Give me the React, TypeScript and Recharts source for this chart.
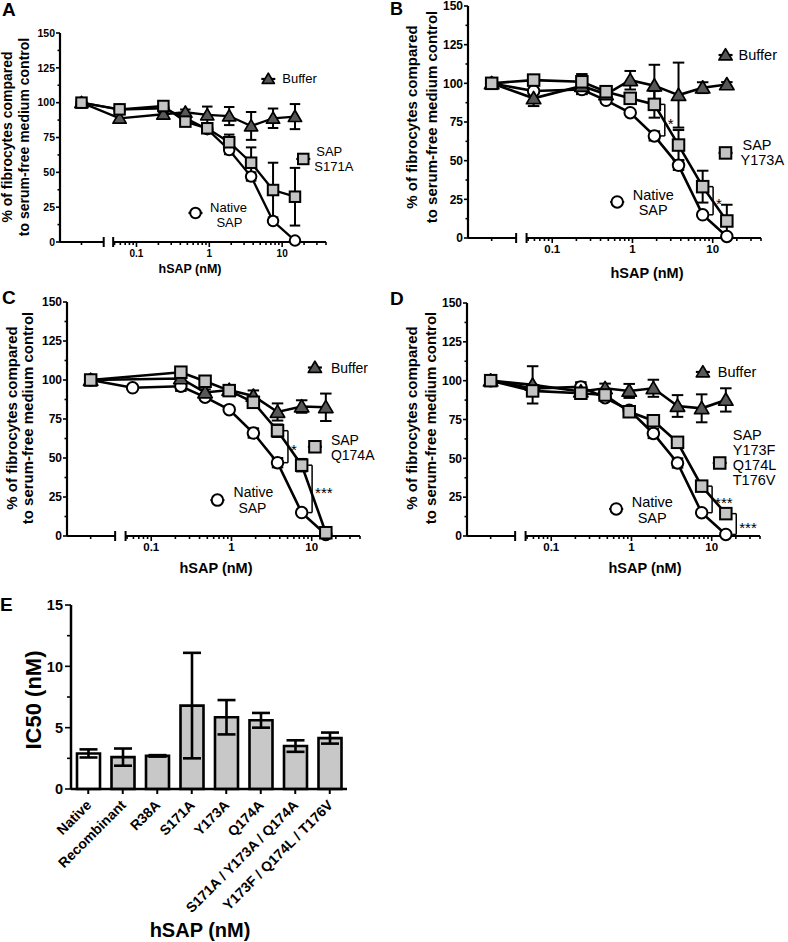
import React from 'react';
import {
  ComposedChart, Line, XAxis, YAxis, ErrorBar, ReferenceLine, ReferenceDot,
  BarChart, Bar, Cell,
} from 'recharts';

const FONT = '"Liberation Sans", Arial, Helvetica, sans-serif';

// ---------- data: dose-response (panels A-D) ----------
// hSAP concentrations in nM; 0 = serum-free medium control
const CONC = [0, 0.0586, 0.234, 0.469, 0.9375, 1.875, 3.75, 7.5, 15];
const NATIVE_SAP = [100, 95, 96, 89, 81, 66, 47, 15, 1];
const NATIVE_SAP_ERR = [0, 1, 3, 1.5, 1, 3, 3, 1, 0];

const BUFFER_A = [100, 88.8, 91.7, 93.1, 91.2, 90.4, 83.3, 88.8, 90];
const BUFFER_A_ERR = [0, 3, 3, 2, 6, 6.5, 10, 7, 9];
const SAP_S171A = [100, 95.2, 97.6, 86.4, 81.6, 71.6, 56.9, 37.3, 32.5];
const SAP_S171A_ERR = [0, 2, 3, 2, 2, 5.5, 11, 19.6, 20.7];

const BUFFER_B = [100, 90.3, 98.3, 92.9, 102, 98.5, 92.4, 97.2, 99.3];
const BUFFER_B_ERR = [0, 5, 5, 2, 6, 13.5, 21, 3.5, 1.5];
const SAP_Y173A = [100, 102.1, 101, 94.6, 90.3, 86.4, 60.1, 33.2, 11];
const SAP_Y173A_ERR = [0, 2, 5, 2, 3, 8.6, 9.7, 10.3, 10.5];

const BUFFER_C = [100, null, 101, 92, 93.6, 89.8, 79.5, 83, 82.5];
const BUFFER_C_ERR = [0, null, 4, 2, 2, 3.5, 5.5, 4, 8.8];
const SAP_Q174A = [100, null, 105, 99.2, 93.2, 85.7, 67.5, 45.4, 2.1];
const SAP_Q174A_ERR = [0, null, 2, 2, 2, 2, 4, 4, 1];

const BUFFER_D = [100, 97.3, 93, 95.1, 93.4, 95.1, 83.7, 82.2, 87.6];
const BUFFER_D_ERR = [0, 12, 4, 3, 4.5, 5.5, 7, 9, 7.5];
const SAP_TRIPLE = [100, 93.4, 91.9, 90.8, 80, 74.2, 60.3, 32.1, 14.4];
const SAP_TRIPLE_ERR = [0, 2, 2, 2, 1.5, 2, 2, 3, 3];

// significance brackets (mutant vs native at a given concentration)
const BRACKETS_B = [{ conc: 1.875, label: '*' }, { conc: 7.5, label: '*' }];
const BRACKETS_C = [{ conc: 3.75, label: '*' }, { conc: 7.5, label: '***' }];
const BRACKETS_D = [{ conc: 7.5, label: '***' }, { conc: 15, label: '***' }];

// axis tick labels
const X_MAJOR = [0.1, 1, 10];
const X_MAJOR_LABELS = ['0.1', '1', '10'];
const Y_MAJOR = [0, 25, 50, 75, 100, 125, 150];

// ---------- data: IC50 (panel E) ----------
const IC50_LABELS = ['Native', 'Recombinant', 'R38A', 'S171A', 'Y173A', 'Q174A',
  'S171A / Y173A / Q174A', 'Y173F / Q174L / T176V'];
const IC50_VALUES = [2.9, 2.6, 2.7, 6.8, 5.85, 5.6, 3.5, 4.15];
const IC50_ERR = [0.33, 0.7, 0.06, 4.3, 1.4, 0.6, 0.47, 0.45];
const IC50_TICKS = [0, 5, 10, 15];

// ---------- broken log axis layout ----------
const CONTROL_POS = -1.755;
const LEFT_SEG = [-2.05, -1.45];
const RIGHT_SEG = [-1.32, Math.log10(40)];
const toPos = (c: number) => (c === 0 ? CONTROL_POS : Math.log10(c));

const X_MINOR: number[] = [];
[-2, -1, 0, 1].forEach((e) => {
  for (let k = 2; k <= 9; k++) {
    const p = Math.log10(k * Math.pow(10, e));
    if (p >= RIGHT_SEG[0] + 0.01 && p <= RIGHT_SEG[1] + 1e-9) X_MINOR.push(p);
  }
});
const X_MAJOR_POS = X_MAJOR.map((v) => Math.log10(v));
const X_TICKS = [CONTROL_POS, LEFT_SEG[1], RIGHT_SEG[0], ...X_MINOR, ...X_MAJOR_POS];
const Y_TICKS_ALL: number[] = [];
for (let v = 0; v <= 150; v += 12.5) Y_TICKS_ALL.push(v);

const near = (a: number, b: number) => Math.abs(a - b) < 1e-6;

function XTick(props: any) {
  const { x, y, payload, fs } = props;
  const v = payload.value;
  const isCap = near(v, LEFT_SEG[1]) || near(v, RIGHT_SEG[0]);
  const mi = X_MAJOR_POS.findIndex((m) => near(m, v));
  const len = mi >= 0 ? 5 : 3;
  return (
    <g>
      {isCap ? (
        <line x1={x} x2={x} y1={y - 5} y2={y + 5} stroke="#000" strokeWidth={2} />
      ) : (
        <line x1={x} x2={x} y1={y} y2={y + len} stroke="#000" strokeWidth={1.6} />
      )}
      {mi >= 0 && (
        <text x={x} y={y + 11 + fs * 0.36} textAnchor="middle" fontSize={fs}
          fontWeight="bold" fontFamily={FONT} fill="#000">{X_MAJOR_LABELS[mi]}</text>
      )}
    </g>
  );
}

function YTick(props: any) {
  const { x, y, payload, fs, majors, majorLen, minorLen, gap } = props;
  const v = payload.value;
  const isMajor = majors.some((m: number) => near(m, v));
  return (
    <g>
      <line x1={x} x2={x - (isMajor ? majorLen : minorLen)} y1={y} y2={y} stroke="#000" strokeWidth={1.6} />
      {isMajor && (
        <text x={x - gap} y={y + fs * 0.36} textAnchor="end" fontSize={fs}
          fontWeight="bold" fontFamily={FONT} fill="#000">{String(v)}</text>
      )}
    </g>
  );
}

function Marker({ kind, cx, cy, s }: any) {
  if (kind === 'circle') {
    return <circle cx={cx} cy={cy} r={s / 2} fill="#fff" stroke="#000" strokeWidth={2} />;
  }
  if (kind === 'square') {
    return <rect x={cx - s / 2} y={cy - s / 2} width={s} height={s} fill="#c4c4c4" stroke="#000" strokeWidth={2} />;
  }
  const h = s * 0.5;
  return (
    <polygon
      points={`${cx},${cy - h * 1.1} ${cx + h * 1.15},${cy + h * 0.85} ${cx - h * 1.15},${cy + h * 0.85}`}
      fill="#585858" stroke="#000" strokeWidth={1.7} strokeLinejoin="round"
    />
  );
}

const dotRenderer = (kind: string, s: number) => (p: any) => {
  const key = `d-${kind}-${p.index}`;
  if (p.cx == null || p.cy == null || p.value == null || Number.isNaN(p.cy)) return <g key={key} />;
  return <Marker key={key} kind={kind} cx={p.cx} cy={p.cy} s={s} />;
};

type NoteLine = { t: string; dx: number; dy: number; anchor: 'start' | 'middle' | 'end' };
type Note = { kind: string; x: number; y: number; lines: NoteLine[] };

function noteShape(note: Note, s: number, fs: number) {
  return (p: any) => {
    const { cx, cy } = p;
    return (
      <g>
        <line x1={cx - 7} x2={cx + 7} y1={cy} y2={cy} stroke="#000" strokeWidth={2.2} />
        <Marker kind={note.kind} cx={cx} cy={cy} s={s} />
        {note.lines.map((ln, i) => (
          <text key={i} x={cx + ln.dx} y={cy + ln.dy} textAnchor={ln.anchor} fontSize={fs}
            fontFamily={FONT} fill="#000">{ln.t}</text>
        ))}
      </g>
    );
  };
}

type PanelCfg = {
  key: string;
  plot: { l: number; r: number; t: number; b: number };
  svgRight: number;
  buffer: (number | null)[];
  bufferErr: (number | null)[];
  mutant: (number | null)[];
  mutantErr: (number | null)[];
  brackets: { conc: number; label: string }[];
  notes: Note[];
  fsX: number;
  fsY: number;
  fsNote: number;
  fsStar: number;
  s: number;
  lw: number;
};

const PANELS: PanelCfg[] = [
  {
    key: 'A', plot: { l: 60, r: 326, t: 33, b: 242 }, svgRight: 385,
    buffer: BUFFER_A, bufferErr: BUFFER_A_ERR, mutant: SAP_S171A, mutantErr: SAP_S171A_ERR,
    brackets: [],
    notes: [
      { kind: 'triangle', x: 0.81, y: 117, lines: [{ t: 'Buffer', dx: 14, dy: 4.5, anchor: 'start' }] },
      { kind: 'square', x: 1.29, y: 59.6, lines: [
        { t: 'SAP', dx: 13, dy: -2.5, anchor: 'start' }, { t: 'S171A', dx: 11, dy: 12.5, anchor: 'start' }] },
      { kind: 'circle', x: -0.19, y: 20.8, lines: [
        { t: 'Native', dx: 33, dy: -1.5, anchor: 'middle' }, { t: 'SAP', dx: 34, dy: 13.5, anchor: 'middle' }] },
    ],
    fsX: 10, fsY: 10.5, fsNote: 13, fsStar: 14, s: 10.5, lw: 2.3,
  },
  {
    key: 'B', plot: { l: 468, r: 761, t: 6, b: 238 }, svgRight: 788,
    buffer: BUFFER_B, bufferErr: BUFFER_B_ERR, mutant: SAP_Y173A, mutantErr: SAP_Y173A_ERR,
    brackets: BRACKETS_B,
    notes: [
      { kind: 'triangle', x: 1.16, y: 118.3, lines: [{ t: 'Buffer', dx: 13, dy: 5, anchor: 'start' }] },
      { kind: 'square', x: 1.16, y: 55, lines: [
        { t: 'SAP', dx: 17, dy: -3, anchor: 'start' }, { t: 'Y173A', dx: 15, dy: 12, anchor: 'start' }] },
      { kind: 'circle', x: -0.19, y: 23.3, lines: [
        { t: 'Native', dx: 36, dy: -2, anchor: 'middle' }, { t: 'SAP', dx: 36, dy: 13, anchor: 'middle' }] },
    ],
    fsX: 11.5, fsY: 12, fsNote: 14.5, fsStar: 15, s: 11.5, lw: 2.6,
  },
  {
    key: 'C', plot: { l: 67, r: 360, t: 302, b: 536 }, svgRight: 386,
    buffer: BUFFER_C, bufferErr: BUFFER_C_ERR, mutant: SAP_Q174A, mutantErr: SAP_Q174A_ERR,
    brackets: BRACKETS_C,
    notes: [
      { kind: 'triangle', x: 1.04, y: 108, lines: [{ t: 'Buffer', dx: 16, dy: 5, anchor: 'start' }] },
      { kind: 'square', x: 1.04, y: 57.2, lines: [
        { t: 'SAP', dx: 16, dy: -2, anchor: 'start' }, { t: 'Q174A', dx: 16, dy: 13, anchor: 'start' }] },
      { kind: 'circle', x: -0.175, y: 23, lines: [
        { t: 'Native', dx: 36, dy: -3, anchor: 'middle' }, { t: 'SAP', dx: 35, dy: 13, anchor: 'middle' }] },
    ],
    fsX: 11.5, fsY: 12, fsNote: 14, fsStar: 15, s: 11.5, lw: 2.6,
  },
  {
    key: 'D', plot: { l: 467, r: 760, t: 303, b: 536 }, svgRight: 788,
    buffer: BUFFER_D, bufferErr: BUFFER_D_ERR, mutant: SAP_TRIPLE, mutantErr: SAP_TRIPLE_ERR,
    brackets: BRACKETS_D,
    notes: [
      { kind: 'triangle', x: 0.89, y: 105.6, lines: [{ t: 'Buffer', dx: 15, dy: 5, anchor: 'start' }] },
      { kind: 'square', x: 1.1, y: 47, lines: [
        { t: 'SAP', dx: 13, dy: -23, anchor: 'start' }, { t: 'Y173F', dx: 13, dy: -8, anchor: 'start' },
        { t: 'Q174L', dx: 13, dy: 7, anchor: 'start' }, { t: 'T176V', dx: 13, dy: 22, anchor: 'start' }] },
      { kind: 'circle', x: -0.19, y: 17.4, lines: [
        { t: 'Native', dx: 36, dy: -2, anchor: 'middle' }, { t: 'SAP', dx: 36, dy: 14, anchor: 'middle' }] },
    ],
    fsX: 11.5, fsY: 12, fsNote: 14.5, fsStar: 15, s: 11.5, lw: 2.6,
  },
];

function DoseChart({ cfg }: { cfg: PanelCfg }) {
  const { plot } = cfg;
  const yAxisW = 45;
  const top = 8;
  const chartX = plot.l - yAxisW;
  const chartY = plot.t - top;
  const xAxisH = 28;
  const W = cfg.svgRight - chartX;
  const H = plot.b - chartY + xAxisH;
  const rows = CONC.map((c, i) => ({
    pos: toPos(c),
    native: NATIVE_SAP[i], nativeErr: NATIVE_SAP_ERR[i],
    buffer: cfg.buffer[i], bufferErr: cfg.bufferErr[i],
    mutant: cfg.mutant[i], mutantErr: cfg.mutantErr[i],
  }));
  const errW = cfg.s / 2;
  return (
    <div style={{ position: 'absolute', left: chartX, top: chartY }}>
      <ComposedChart width={W} height={H} data={rows}
        margin={{ top, right: cfg.svgRight - plot.r, bottom: 0, left: 0 }}>
        <XAxis dataKey="pos" type="number" domain={[LEFT_SEG[0], RIGHT_SEG[1]]} ticks={X_TICKS}
          interval={0} axisLine={false} tickLine={false} tickSize={0} tickMargin={0} height={xAxisH}
          tick={(p: any) => <XTick {...p} fs={cfg.fsX} />} />
        <YAxis type="number" domain={[0, 150]} ticks={Y_TICKS_ALL} interval={0}
          axisLine={{ stroke: '#000', strokeWidth: 2.2 }} tickLine={false} tickSize={0} tickMargin={0} width={yAxisW}
          tick={(p: any) => <YTick {...p} fs={cfg.fsY} majors={Y_MAJOR} majorLen={4} minorLen={2.5} gap={5} />} />
        <ReferenceLine segment={[{ x: LEFT_SEG[0], y: 0 }, { x: LEFT_SEG[1], y: 0 }]} stroke="#000" strokeWidth={2.2} ifOverflow="visible" />
        <ReferenceLine segment={[{ x: RIGHT_SEG[0], y: 0 }, { x: RIGHT_SEG[1], y: 0 }]} stroke="#000" strokeWidth={2.2} ifOverflow="visible" />
        <Line dataKey="native" stroke="#000" strokeWidth={cfg.lw} isAnimationActive={false} connectNulls
          dot={dotRenderer('circle', cfg.s)} activeDot={false}>
          <ErrorBar dataKey="nativeErr" direction="y" width={errW} stroke="#000" strokeWidth={2} />
        </Line>
        <Line dataKey="buffer" stroke="#000" strokeWidth={cfg.lw} isAnimationActive={false} connectNulls
          dot={dotRenderer('triangle', cfg.s + 1)} activeDot={false}>
          <ErrorBar dataKey="bufferErr" direction="y" width={errW} stroke="#000" strokeWidth={2} />
        </Line>
        <Line dataKey="mutant" stroke="#000" strokeWidth={cfg.lw} isAnimationActive={false} connectNulls
          dot={dotRenderer('square', cfg.s)} activeDot={false}>
          <ErrorBar dataKey="mutantErr" direction="y" width={errW} stroke="#000" strokeWidth={2} />
        </Line>
        {cfg.brackets.map((b, i) => {
          const idx = CONC.indexOf(b.conc);
          const hi = cfg.mutant[idx] as number;
          const lo = NATIVE_SAP[idx];
          const xb = Math.log10(b.conc) + 0.13;
          const xs = xb - 0.05;
          return (
            <React.Fragment key={`br${i}`}>
              <ReferenceLine segment={[{ x: xb, y: hi }, { x: xb, y: lo }]} stroke="#000" strokeWidth={1.5} ifOverflow="visible" />
              <ReferenceLine segment={[{ x: xs, y: hi }, { x: xb, y: hi }]} stroke="#000" strokeWidth={1.5} ifOverflow="visible" />
              <ReferenceLine segment={[{ x: xs, y: lo }, { x: xb, y: lo }]} stroke="#000" strokeWidth={1.5} ifOverflow="visible" />
              <ReferenceDot x={xb} y={(hi + lo) / 2} r={0} ifOverflow="visible"
                shape={(p: any) => (
                  <text x={p.cx + 3} y={p.cy + cfg.fsStar * 0.58} fontSize={cfg.fsStar} fontFamily={FONT}
                    fill="#000" stroke="none">{b.label}</text>
                )} />
            </React.Fragment>
          );
        })}
        {cfg.notes.map((n, i) => (
          <ReferenceDot key={`n${i}`} x={n.x} y={n.y} r={0} ifOverflow="visible" shape={noteShape(n, cfg.s, cfg.fsNote)} />
        ))}
      </ComposedChart>
    </div>
  );
}

function ETick(props: any) {
  const { x, y, payload } = props;
  const ax = x + 4;
  const ay = y + 17;
  return (
    <g>
      <line x1={x} x2={x} y1={y} y2={y + 5} stroke="#000" strokeWidth={2} />
      <text x={ax} y={ay} transform={`rotate(-45, ${ax}, ${ay})`} textAnchor="end" fontSize={14}
        fontWeight="bold" fontFamily={FONT} fill="#000">{payload.value}</text>
    </g>
  );
}

function IC50Chart() {
  const plot = { l: 71, r: 347, t: 605, b: 789 };
  const chartX = 0;
  const chartY = plot.t - 10;
  const xAxisH = 140;
  const rows = IC50_LABELS.map((name, i) => ({ name, ic50: IC50_VALUES[i], err: IC50_ERR[i] }));
  const eTicksAll: number[] = [];
  for (let v = 0; v <= 15; v += 2.5) eTicksAll.push(v);
  return (
    <div style={{ position: 'absolute', left: chartX, top: chartY }}>
      <BarChart width={plot.r + 10} height={plot.b - chartY + xAxisH} data={rows}
        margin={{ top: 10, right: 10, bottom: 0, left: 0 }}>
        <XAxis dataKey="name" type="category" interval={0} axisLine={{ stroke: '#000', strokeWidth: 2.5 }}
          tickLine={false} tickSize={0} tickMargin={0} height={xAxisH} tick={(p: any) => <ETick {...p} />} />
        <YAxis type="number" domain={[0, 15]} ticks={eTicksAll} interval={0}
          axisLine={{ stroke: '#000', strokeWidth: 2.5 }} tickLine={false} tickSize={0} tickMargin={0} width={plot.l}
          tick={(p: any) => <YTick {...p} fs={14.5} majors={IC50_TICKS} majorLen={6} minorLen={4} gap={8} />} />
        <Bar dataKey="ic50" barSize={23} stroke="#000" strokeWidth={2.6} isAnimationActive={false}>
          {rows.map((r, i) => (
            <Cell key={r.name} fill={i === 0 ? '#ffffff' : '#c8c8c8'} />
          ))}
          <ErrorBar dataKey="err" direction="y" width={9} stroke="#000" strokeWidth={2.6} />
        </Bar>
      </BarChart>
    </div>
  );
}

const TEXT_STYLE = { fontFamily: FONT, fill: '#000', fontWeight: 'bold' as const };

function YTitle({ x1, x2, cy, fs }: { x1: number; x2: number; cy: number; fs: number }) {
  return (
    <g>
      <text x={x1} y={cy} transform={`rotate(-90, ${x1}, ${cy})`} textAnchor="middle" fontSize={fs} {...TEXT_STYLE}>% of fibrocytes compared</text>
      <text x={x2} y={cy} transform={`rotate(-90, ${x2}, ${cy})`} textAnchor="middle" fontSize={fs} {...TEXT_STYLE}>to serum-free medium control</text>
    </g>
  );
}

export default function App() {
  return (
    <div style={{ position: 'absolute', left: 0, top: 0, width: 788, height: 942, background: '#fff', overflow: 'hidden' }}>
      {PANELS.map((p) => <DoseChart key={p.key} cfg={p} />)}
      <IC50Chart />
      <svg width={788} height={942} style={{ position: 'absolute', left: 0, top: 0, pointerEvents: 'none' }}>
        <text x={2} y={16} fontSize={19} {...TEXT_STYLE}>A</text>
        <text x={390} y={15} fontSize={18} {...TEXT_STYLE}>B</text>
        <text x={2} y={304} fontSize={19} {...TEXT_STYLE}>C</text>
        <text x={390} y={305} fontSize={19} {...TEXT_STYLE}>D</text>
        <text x={0} y={611} fontSize={19} {...TEXT_STYLE}>E</text>

        <YTitle x1={12} x2={29} cy={137} fs={14} />
        <YTitle x1={417} x2={437} cy={117} fs={15} />
        <YTitle x1={17} x2={33} cy={418} fs={15} />
        <YTitle x1={417} x2={436} cy={418} fs={15} />

        <text x={190} y={273} textAnchor="middle" fontSize={12.5} {...TEXT_STYLE}>hSAP (nM)</text>
        <text x={647} y={278} textAnchor="middle" fontSize={14.5} {...TEXT_STYLE}>hSAP (nM)</text>
        <text x={216} y={573} textAnchor="middle" fontSize={14.5} {...TEXT_STYLE}>hSAP (nM)</text>
        <text x={645} y={573} textAnchor="middle" fontSize={14.5} {...TEXT_STYLE}>hSAP (nM)</text>

        <text x={41} y={700} transform="rotate(-90, 41, 700)" textAnchor="middle" fontSize={22} {...TEXT_STYLE}>IC50 (nM)</text>
        <text x={200} y={937} textAnchor="middle" fontSize={20} {...TEXT_STYLE}>hSAP (nM)</text>
      </svg>
    </div>
  );
}
